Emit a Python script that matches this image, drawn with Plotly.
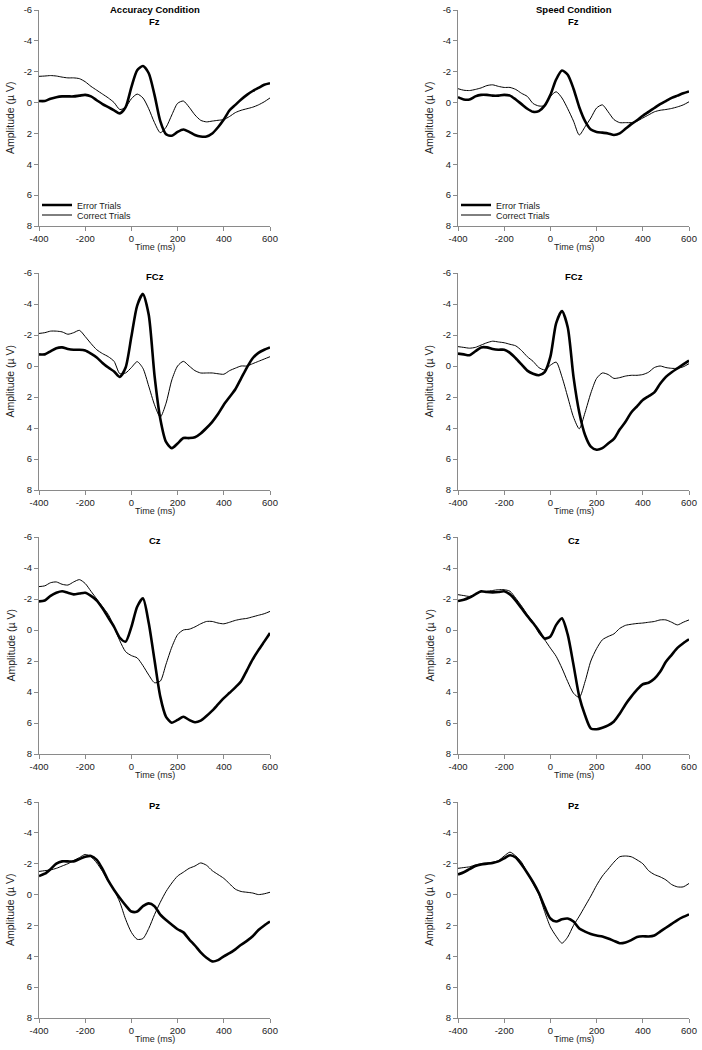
import plotly.graph_objects as go

# Time axis (ms)
T = list(range(-400, 601, 25))

# Accuracy condition
acc_fz_err = [-0.1, -0.1, -0.25, -0.35, -0.4, -0.4, -0.4, -0.45, -0.5, -0.4, -0.15, 0.1, 0.3, 0.5, 0.7, 0.3,
              -1.0, -2.1, -2.37, -1.9, -0.5, 1.2, 2.05, 2.15, 1.9, 1.75, 1.9, 2.1, 2.2, 2.2, 2.0, 1.6, 1.1, 0.5,
              0.15, -0.2, -0.5, -0.75, -0.95, -1.15, -1.25]
acc_fz_cor = [-1.7, -1.72, -1.75, -1.72, -1.65, -1.6, -1.6, -1.55, -1.35, -1.05, -0.8, -0.55, -0.3, 0.0, 0.45, 0.3,
              -0.25, -0.55, -0.3, 0.4, 1.3, 1.95, 1.6, 0.8, 0.05, -0.1, 0.3, 0.8, 1.15, 1.25, 1.2, 1.15, 1.1, 0.9,
              0.65, 0.5, 0.4, 0.3, 0.15, -0.05, -0.3]
acc_fcz_err = [-0.75, -0.75, -0.95, -1.15, -1.2, -1.1, -1.05, -1.05, -1.0, -0.8, -0.55, -0.2, 0.1, 0.35, 0.7, 0.1,
               -1.9, -3.9, -4.65, -3.3, 0.6, 3.4, 4.9, 5.3, 5.0, 4.65, 4.65, 4.6, 4.35, 4.0, 3.6, 3.1, 2.5, 2.0,
               1.5, 0.8, 0.1, -0.5, -0.85, -1.05, -1.2]
acc_fcz_cor = [-2.1, -2.15, -2.25, -2.25, -2.2, -2.05, -2.15, -2.3, -1.9, -1.45, -1.05, -0.8, -0.6, -0.3, 0.5, 0.45,
               0.1, -0.28, 0.15, 1.3, 2.5, 3.3, 2.4, 0.9, 0.0, -0.3, 0.0, 0.3, 0.45, 0.45, 0.45, 0.5, 0.53, 0.3,
               0.14, 0.0, 0.0, -0.15, -0.3, -0.45, -0.6]
acc_cz_err = [-1.85, -1.9, -2.2, -2.4, -2.5, -2.4, -2.3, -2.35, -2.4, -2.2, -1.9, -1.4, -0.8, -0.2, 0.5, 0.75,
              -0.2, -1.5, -2.04, -0.45, 1.94, 4.3, 5.6, 5.98, 5.8, 5.6, 5.8, 5.95, 5.85, 5.55, 5.2, 4.8, 4.4, 4.05,
              3.7, 3.3, 2.6, 1.9, 1.3, 0.75, 0.2]
acc_cz_cor = [-2.8, -2.85, -3.05, -3.1, -2.95, -2.9, -3.1, -3.25, -3.0, -2.5, -2.0, -1.5, -1.0, -0.2, 0.7, 1.4,
              1.65, 1.8, 2.3, 2.9, 3.4, 3.3, 2.2, 1.1, 0.3, 0.0, -0.05, -0.2, -0.4, -0.55, -0.55, -0.45, -0.4,
              -0.5, -0.62, -0.7, -0.75, -0.85, -0.95, -1.05, -1.2]
acc_pz_err = [-1.2, -1.35, -1.65, -2.0, -2.15, -2.15, -2.15, -2.3, -2.45, -2.5, -2.25, -1.65, -0.9, -0.3, 0.22, 0.7,
              1.1, 1.1, 0.75, 0.57, 0.75, 1.3, 1.65, 1.95, 2.25, 2.45, 2.9, 3.3, 3.75, 4.1, 4.33, 4.25, 4.0, 3.8,
              3.55, 3.25, 3.0, 2.7, 2.3, 2.0, 1.75]
acc_pz_cor = [-1.5, -1.55, -1.6, -1.7, -1.85, -2.0, -2.2, -2.4, -2.6, -2.45, -2.05, -1.5, -0.85, -0.3, 0.5, 1.6,
              2.45, 2.9, 2.85, 2.2, 1.3, 0.5, -0.2, -0.75, -1.2, -1.45, -1.7, -1.85, -2.05, -1.9, -1.55, -1.3,
              -1.05, -0.7, -0.35, -0.2, -0.15, -0.1, 0.0, -0.05, -0.15]

# Speed condition
spd_fz_err = [-0.35, -0.2, -0.2, -0.4, -0.5, -0.5, -0.45, -0.45, -0.5, -0.45, -0.2, 0.1, 0.4, 0.6, 0.55, 0.2,
              -0.5, -1.5, -2.08, -1.8, -0.9, 0.3, 1.2, 1.75, 1.9, 1.95, 2.0, 2.1, 2.0, 1.7, 1.4, 1.15, 0.85, 0.6,
              0.35, 0.1, -0.1, -0.3, -0.45, -0.6, -0.72]
spd_fz_cor = [-0.9, -0.8, -0.78, -0.85, -0.95, -1.1, -1.15, -1.05, -0.98, -0.98, -0.85, -0.6, -0.4, 0.06, 0.22, 0.2,
              -0.4, -0.7, -0.3, 0.4, 1.2, 2.1, 1.57, 1.0, 0.35, 0.15, 0.6, 1.1, 1.3, 1.3, 1.3, 1.2, 1.0, 0.8, 0.6,
              0.5, 0.45, 0.38, 0.28, 0.15, -0.05]
spd_fcz_err = [-0.8, -0.75, -0.7, -0.95, -1.2, -1.2, -1.1, -1.05, -1.05, -0.85, -0.5, -0.1, 0.3, 0.5, 0.6, 0.4,
               -0.6, -2.77, -3.55, -2.5, 0.7, 3.0, 4.45, 5.2, 5.4, 5.3, 5.0, 4.7, 4.1, 3.6, 3.0, 2.6, 2.2, 1.95,
               1.7, 1.15, 0.7, 0.4, 0.15, -0.1, -0.35]
spd_fcz_cor = [-1.25, -1.2, -1.15, -1.2, -1.35, -1.5, -1.6, -1.55, -1.5, -1.4, -1.3, -1.0, -0.6, -0.3, 0.1, 0.25,
               -0.05, -0.25, 0.7, 2.0, 3.3, 4.05, 3.0, 1.75, 0.8, 0.45, 0.55, 0.8, 0.75, 0.65, 0.6, 0.6, 0.55, 0.4,
               0.1, 0.0, 0.1, 0.15, 0.15, 0.05, -0.15]
spd_cz_err = [-1.87, -1.95, -2.1, -2.3, -2.5, -2.45, -2.43, -2.45, -2.5, -2.3, -1.9, -1.4, -0.9, -0.45, 0.05, 0.55,
              0.42, -0.33, -0.75, 0.3, 2.25, 4.3, 5.5, 6.35, 6.4, 6.3, 6.15, 5.9, 5.4, 4.8, 4.3, 3.85, 3.5, 3.4,
              3.15, 2.7, 2.05, 1.6, 1.15, 0.85, 0.6]
spd_cz_cor = [-2.28, -2.22, -2.17, -2.3, -2.45, -2.5, -2.55, -2.6, -2.6, -2.5, -2.05, -1.55, -1.0, -0.5, 0.2, 0.63,
              1.17, 1.7, 2.46, 3.33, 4.08, 4.35, 3.33, 2.0, 1.2, 0.63, 0.42, 0.25, -0.1, -0.3, -0.37, -0.42, -0.45,
              -0.5, -0.55, -0.65, -0.65, -0.5, -0.33, -0.5, -0.65]
spd_pz_err = [-1.3, -1.45, -1.65, -1.85, -1.95, -2.0, -2.05, -2.15, -2.35, -2.55, -2.4, -1.95, -1.4, -0.8, -0.1, 0.8,
              1.55, 1.75, 1.6, 1.55, 1.75, 2.2, 2.4, 2.55, 2.65, 2.72, 2.85, 3.0, 3.15, 3.1, 2.95, 2.75, 2.7, 2.72,
              2.65, 2.4, 2.15, 1.9, 1.65, 1.45, 1.28]
spd_pz_cor = [-1.7, -1.75, -1.8, -1.92, -2.0, -2.05, -2.1, -2.2, -2.5, -2.75, -2.5, -2.1, -1.4, -0.72, 0.0, 1.1,
              2.1, 2.7, 3.15, 2.75, 2.0, 1.4, 0.75, 0.1, -0.6, -1.2, -1.65, -2.1, -2.45, -2.5, -2.45, -2.25, -2.0,
              -1.55, -1.3, -1.15, -0.95, -0.65, -0.5, -0.5, -0.72]

conditions = ["Accuracy Condition", "Speed Condition"]
electrodes = ["Fz", "FCz", "Cz", "Pz"]
series = {
    (0, 0): (acc_fz_err, acc_fz_cor), (0, 1): (spd_fz_err, spd_fz_cor),
    (1, 0): (acc_fcz_err, acc_fcz_cor), (1, 1): (spd_fcz_err, spd_fcz_cor),
    (2, 0): (acc_cz_err, acc_cz_cor), (2, 1): (spd_cz_err, spd_cz_cor),
    (3, 0): (acc_pz_err, acc_pz_cor), (3, 1): (spd_pz_err, spd_pz_cor),
}
x_ticks = [-400, -200, 0, 200, 400, 600]
y_ticks = [-6, -4, -2, 0, 2, 4, 6, 8]

W, H = 702, 1050
col_px = [(39, 270), (458, 689)]
row_px = [(10, 226), (273, 490), (537, 754), (802, 1018)]
ytitle_px = [10, 429]


def px_x(p):
    return p / W


def px_y(p):
    return 1 - p / H


FONT = "Arial, 'Liberation Sans', sans-serif"
AX_COL = "#8a8a8a"
TXT = "#222"

# one single-item legend per legend entry so rows can sit close together
legend_names = {(0, "err"): "legend", (0, "cor"): "legend3", (1, "err"): "legend2", (1, "cor"): "legend4"}

fig = go.Figure()
annotations = []
layout = {}
k = 0
for r in range(4):
    for c in range(2):
        k += 1
        sfx = "" if k == 1 else str(k)
        xa, ya = "x" + sfx, "y" + sfx
        err, cor = series[(r, c)]
        fig.add_trace(go.Scatter(
            x=T, y=err, mode="lines", name="Error Trials", xaxis=xa, yaxis=ya,
            line=dict(color="black", width=2.6, shape="spline", smoothing=0.7),
            showlegend=(r == 0), legend=legend_names[(c, "err")]))
        fig.add_trace(go.Scatter(
            x=T, y=cor, mode="lines", name="Correct Trials", xaxis=xa, yaxis=ya,
            line=dict(color="black", width=1.0, shape="spline", smoothing=0.7),
            showlegend=(r == 0), legend=legend_names[(c, "cor")]))
        x0, x1 = col_px[c]
        y0, y1 = row_px[r]
        layout["xaxis" + sfx] = dict(
            domain=[px_x(x0), px_x(x1)], anchor=ya, range=[-400, 600], automargin=False,
            tickmode="array", tickvals=x_ticks, ticktext=[str(v) for v in x_ticks],
            showline=True, linecolor=AX_COL, linewidth=1, ticks="outside",
            ticklen=4, tickcolor=AX_COL, showgrid=False, zeroline=False,
            tickfont=dict(family=FONT, size=9.5, color=TXT))
        layout["yaxis" + sfx] = dict(
            domain=[px_y(y1), px_y(y0)], anchor=xa, range=[8, -6], automargin=False,
            tickmode="array", tickvals=y_ticks, ticktext=[str(v) for v in y_ticks],
            showline=True, linecolor=AX_COL, linewidth=1, ticks="outside",
            ticklen=4, tickcolor=AX_COL, showgrid=False, zeroline=False,
            tickfont=dict(family=FONT, size=9.5, color=TXT))
        xc = px_x((x0 + x1) / 2)
        # axis titles
        annotations.append(dict(text="Time (ms)", x=xc, y=px_y(y1 + 21), xref="paper", yref="paper",
                                showarrow=False, xanchor="center", yanchor="middle",
                                font=dict(family=FONT, size=9, color=TXT)))
        annotations.append(dict(text="Amplitude (\u00b5 V)", x=px_x(ytitle_px[c]), y=px_y((y0 + y1) / 2),
                                xref="paper", yref="paper", showarrow=False, textangle=-90,
                                xanchor="center", yanchor="middle",
                                font=dict(family=FONT, size=10.5, color=TXT)))
        if r == 0:
            annotations.append(dict(text="<b>%s</b>" % conditions[c], x=xc, y=px_y(10), xref="paper",
                                    yref="paper", showarrow=False, xanchor="center", yanchor="middle",
                                    font=dict(family=FONT, size=9.5, color="black")))
            annotations.append(dict(text="<b>%s</b>" % electrodes[r], x=xc, y=px_y(22), xref="paper",
                                    yref="paper", showarrow=False, xanchor="center", yanchor="middle",
                                    font=dict(family=FONT, size=9.5, color="black")))
        else:
            annotations.append(dict(text="<b>%s</b>" % electrodes[r], x=xc, y=px_y(y0 + 3), xref="paper",
                                    yref="paper", showarrow=False, xanchor="center", yanchor="middle",
                                    font=dict(family=FONT, size=9.5, color="black")))

legend_common = dict(xanchor="left", yanchor="middle", bgcolor="rgba(0,0,0,0)", borderwidth=0,
                     font=dict(family=FONT, size=9, color=TXT), itemwidth=30, tracegroupgap=0,
                     itemclick=False, itemdoubleclick=False)
fig.update_layout(
    width=W, height=H, margin=dict(l=0, r=0, t=0, b=0),
    paper_bgcolor="white", plot_bgcolor="white",
    annotations=annotations,
    legend=dict(x=px_x(37), y=px_y(205), **legend_common),
    legend3=dict(x=px_x(37), y=px_y(215), **legend_common),
    legend2=dict(x=px_x(456), y=px_y(205), **legend_common),
    legend4=dict(x=px_x(456), y=px_y(215), **legend_common),
    **layout)

fig.write_html("out.html", config={"displayModeBar": False},
               post_script="document.body.style.margin='0';document.body.style.overflow='hidden';")
